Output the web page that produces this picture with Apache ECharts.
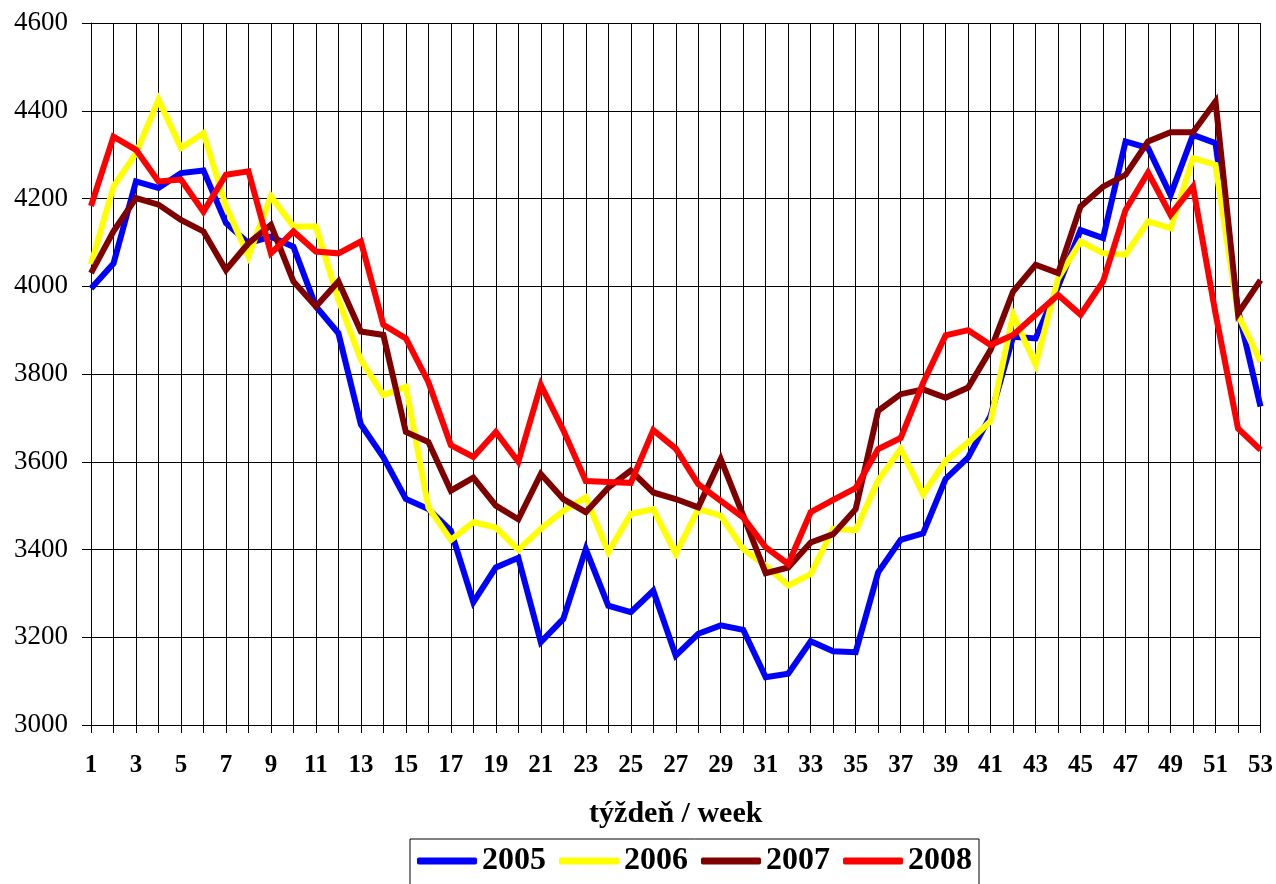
<!DOCTYPE html>
<html>
<head>
<meta charset="utf-8">
<script src="https://cdn.jsdelivr.net/npm/echarts@6/dist/echarts.min.js"></script>
<style>
  html, body { margin: 0; padding: 0; background: #fff; }
  #main { width: 1276px; height: 884px; }
</style>
</head>
<body>
<div id="main"></div>
<script>
//týždne 1..53
let weeks = [];
for (let i = 1; i <= 53; i++) weeks.push(String(i));

//hodnoty podla rokov
let y2005 = [3995, 4052, 4239, 4224, 4258, 4264, 4144, 4098, 4113, 4090, 3954, 3893, 3685, 3610, 3515, 3492, 3443, 3280, 3359, 3381, 3189, 3242, 3401, 3272, 3257, 3306, 3158, 3208, 3227, 3217, 3109, 3117, 3191, 3168, 3166, 3348, 3422, 3437, 3561, 3610, 3705, 3885, 3881, 3999, 4128, 4110, 4330, 4315, 4208, 4345, 4326, 3946, 3726];
let y2006 = [4050, 4227, 4303, 4425, 4315, 4349, 4182, 4068, 4205, 4136, 4136, 3969, 3832, 3752, 3771, 3496, 3422, 3462, 3450, 3399, 3447, 3488, 3519, 3394, 3481, 3492, 3390, 3492, 3477, 3401, 3363, 3318, 3344, 3447, 3444, 3557, 3629, 3526, 3602, 3644, 3693, 3935, 3821, 4018, 4102, 4075, 4072, 4148, 4132, 4292, 4277, 3935, 3828];
let y2007 = [4030, 4125, 4201, 4186, 4151, 4125, 4037, 4098, 4140, 4011, 3954, 4011, 3897, 3889, 3668, 3645, 3534, 3564, 3500, 3469, 3572, 3515, 3485, 3541, 3580, 3530, 3515, 3496, 3606, 3477, 3346, 3359, 3416, 3435, 3492, 3716, 3754, 3765, 3746, 3769, 3855, 3988, 4049, 4030, 4182, 4227, 4254, 4330, 4351, 4351, 4421, 3938, 4014];
let y2008 = [4183, 4341, 4311, 4239, 4243, 4170, 4254, 4262, 4075, 4125, 4079, 4075, 4102, 3912, 3881, 3782, 3638, 3611, 3668, 3600, 3775, 3672, 3556, 3554, 3552, 3672, 3630, 3549, 3511, 3473, 3405, 3367, 3485, 3513, 3540, 3629, 3654, 3780, 3888, 3900, 3866, 3889, 3935, 3980, 3935, 4011, 4174, 4259, 4163, 4227, 3938, 3676, 3627];

let years = ['2005', '2006', '2007', '2008'];
let colors = ['#0000ff', '#ffff00', '#800000', '#ff0000'];
let values = [y2005, y2006, y2007, y2008];

let font = "'Liberation Serif', 'Times New Roman', serif";
let chart = echarts.init(document.getElementById('main'));

let series = [];
for (let i = 0; i < years.length; i++) {
    series.push({
        name: years[i],
        type: 'line',
        data: values[i],
        showSymbol: false,
        symbol: 'none',
        animation: false,
        lineStyle: { color: colors[i], width: 6, join: 'miter', cap: 'butt' },
        itemStyle: { color: colors[i] }
    });
}

let option = {
    backgroundColor: '#fff',
    animation: false,
    color: colors,
    grid: { left: 91, right: 14, top: 23, bottom: 159, containLabel: false },
    legend: {
        data: years,
        left: 410,
        top: 839,
        padding: [6, 7, 20, 7],
        borderColor: '#000',
        borderWidth: 1,
        itemWidth: 60,
        itemHeight: 7,
        itemGap: 13,
        icon: 'roundRect',
        textStyle: { fontFamily: font, fontWeight: 'bold', fontSize: 32, color: '#000' }
    },
    xAxis: {
        type: 'category',
        data: weeks,
        boundaryGap: false,
        name: 'týždeň / week',
        nameLocation: 'middle',
        nameGap: 74,
        nameTextStyle: { fontFamily: font, fontWeight: 'bold', fontSize: 30, color: '#000' },
        axisLine: { lineStyle: { color: '#000', width: 1 } },
        axisTick: { show: true, interval: 0, length: 8, lineStyle: { color: '#000' } },
        axisLabel: { interval: 1, margin: 28, fontFamily: font, fontWeight: 'bold', fontSize: 25, color: '#000' },
        splitLine: { show: true, interval: 0, lineStyle: { color: '#000', width: 1 } }
    },
    yAxis: {
        type: 'value',
        min: 3000,
        max: 4600,
        interval: 200,
        axisLine: { show: true, lineStyle: { color: '#000', width: 1 } },
        axisTick: { show: true, length: 9, lineStyle: { color: '#000' } },
        axisLabel: {
            margin: 23, fontFamily: font, fontSize: 27, color: '#000',
            formatter: function (v) { return String(v); }
        },
        splitLine: { show: true, lineStyle: { color: '#000', width: 1 } }
    },
    series: series
};

chart.setOption(option);
</script>
</body>
</html>
